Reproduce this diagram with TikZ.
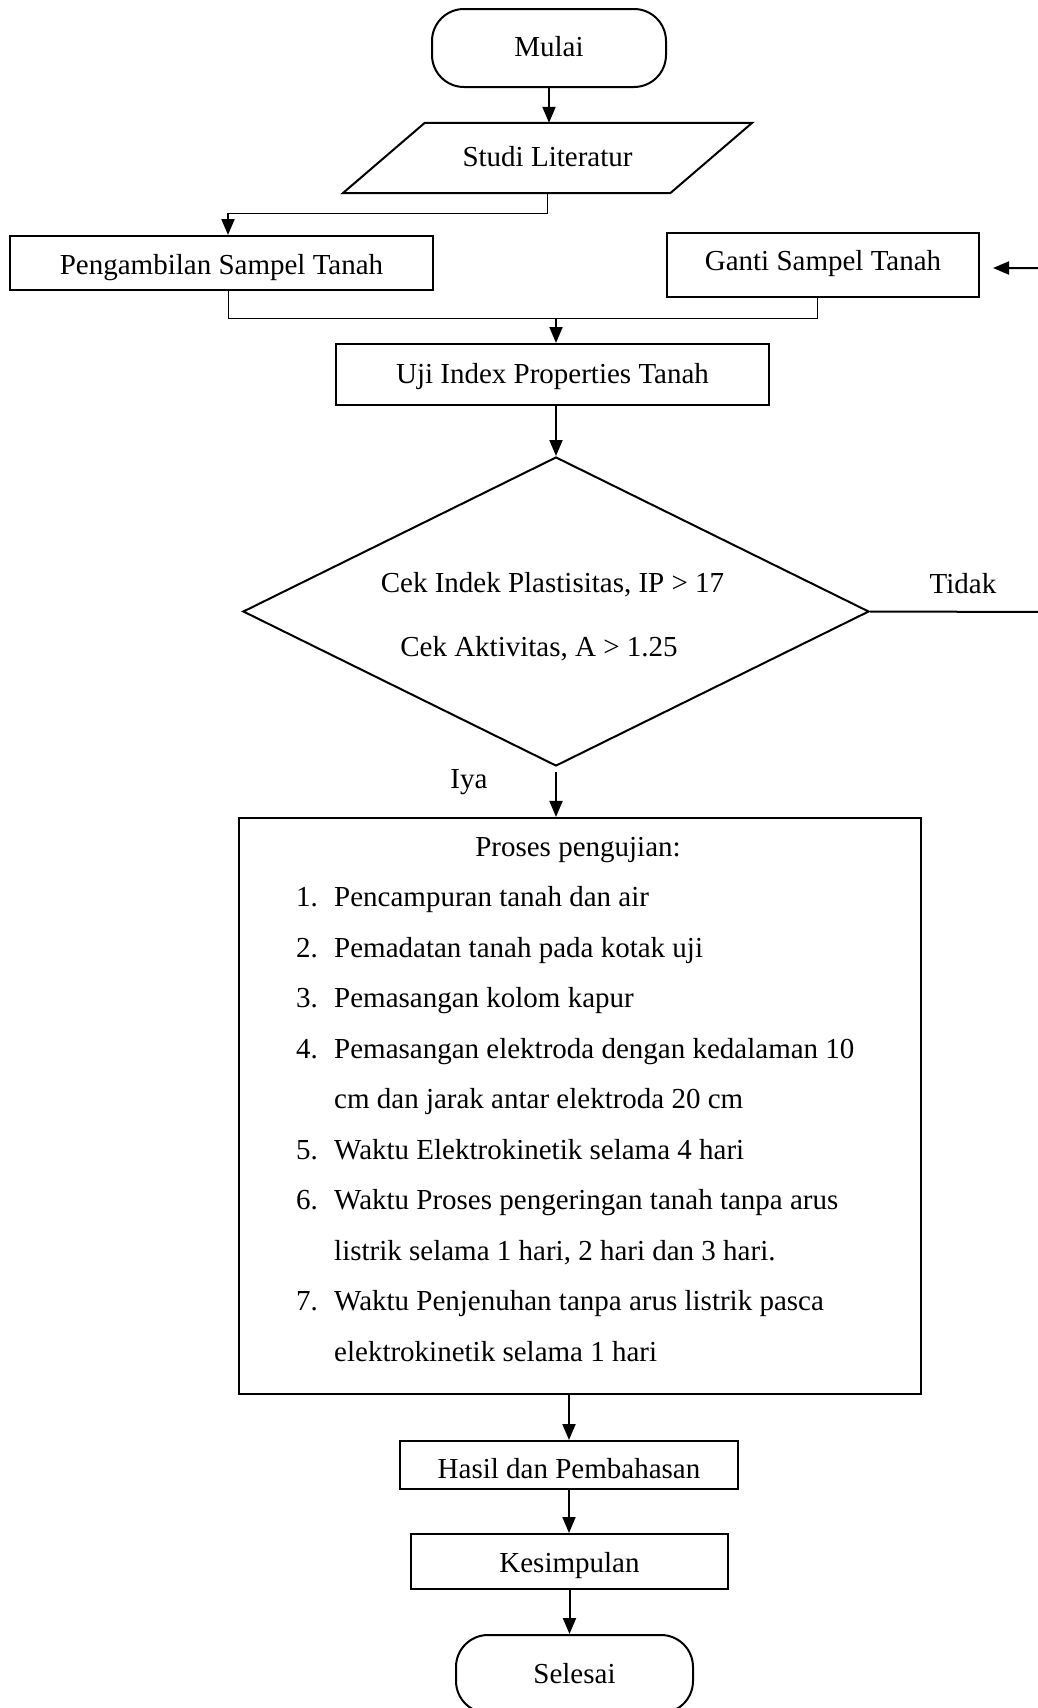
\documentclass[tikz,border=0pt]{standalone}
\usepackage{fontspec}
\setmainfont{Liberation Serif}
\usetikzlibrary{arrows.meta,shapes.geometric,calc}
\begin{document}
\begin{tikzpicture}[x=1pt,y=-1pt,
  every node/.style={font=\fontsize{29pt}{35pt}\selectfont, inner sep=0pt},
  box/.style={draw, line width=2pt, rectangle},
  term/.style={box, rounded corners=32pt},
  arr/.style={line width=2pt, -{Triangle[length=16pt,width=13pt]}},
  link/.style={line width=0.8pt},
  txt/.style={anchor=base},
  num/.style={anchor=base west}]
\useasboundingbox (0,0) rectangle (1037,1708);

% nodes
\node[term, minimum width=234pt, minimum height=78pt, text height=22pt, text depth=6pt] (mulai) at (549,48) {Mulai};
\node[minimum width=245pt, minimum height=70pt, text height=22pt, text depth=6pt] (studi) at (547.5,158) {Studi Literatur};
\draw[line width=2pt] ($(studi.south west)+(-82,0)$) -- (studi.north west)
      -- ($(studi.north east)+(82,0)$) -- (studi.south east) -- cycle;
\node[box, minimum width=423pt, minimum height=54pt, text height=25pt, text depth=3pt] (peng) at (221.5,263) {Pengambilan Sampel Tanah};
\node[box, minimum width=312pt, minimum height=64pt, text height=19pt, text depth=9pt] (ganti) at (823,265) {Ganti Sampel Tanah};
\node[box, minimum width=433pt, minimum height=61pt, text height=22.5pt, text depth=5.5pt] (uji) at (552.5,374.5) {Uji Index Properties Tanah};
\node[draw, line width=2pt, shape=diamond, minimum width=626pt, minimum height=309pt] (cek) at (556,611.5) {};
\node[txt] (cek1) at (552.5,592) {Cek Indek Plastisitas, IP > 17};
\node[txt] (cek2) at (539,656) {Cek Aktivitas, A > 1.25};
\node[txt] (tidak) at (963,593) {Tidak};
\node[txt] (iya) at (469,788) {Iya};

\node[draw, line width=2.2pt, minimum width=682pt, minimum height=576pt] (proses) at (580,1106) {};
\node[txt] (head) at (578,856) {Proses pengujian:};
\node[num] (n1) at (296,906.5) {1.};
\node[num] (t1) at (334,906.5) {Pencampuran tanah dan air};
\node[num] (n2) at (296,957) {2.};
\node[num] (t2) at (334,957) {Pemadatan tanah pada kotak uji};
\node[num] (n3) at (296,1007.5) {3.};
\node[num] (t3) at (334,1007.5) {Pemasangan kolom kapur};
\node[num] (n4) at (296,1058) {4.};
\node[num] (t4) at (334,1058) {Pemasangan elektroda dengan kedalaman 10};
\node[num] (t4b) at (334,1108.5) {cm dan jarak antar elektroda 20 cm};
\node[num] (n5) at (296,1159) {5.};
\node[num] (t5) at (334,1159) {Waktu Elektrokinetik selama 4 hari};
\node[num] (n6) at (296,1209.5) {6.};
\node[num] (t6) at (334,1209.5) {Waktu Proses pengeringan tanah tanpa arus};
\node[num] (t6b) at (334,1260) {listrik selama 1 hari, 2 hari dan 3 hari.};
\node[num] (n7) at (296,1310.5) {7.};
\node[num] (t7) at (334,1310.5) {Waktu Penjenuhan tanpa arus listrik pasca};
\node[num] (t7b) at (334,1361) {elektrokinetik selama 1 hari};

\node[box, minimum width=338pt, minimum height=48pt, text height=27pt, text depth=1pt] (hasil) at (569,1465) {Hasil dan Pembahasan};
\node[box, minimum width=317pt, minimum height=55pt, text height=24.5pt, text depth=3.5pt] (kes) at (569.5,1561.5) {Kesimpulan};
\node[term, minimum width=237pt, minimum height=78pt, text height=23pt, text depth=5pt] (sel) at (574.5,1674) {Selesai};

% junction coordinates
\coordinate (j1) at (228,213);
\coordinate (j2) at (228,318);
\coordinate (j3) at (817,318);
\coordinate (m) at (556,318);
\coordinate (r1) at (1050,612);

% connectors
\draw[arr] (mulai.south) -- (mulai.south |- studi.north);
\draw[link] (studi.south) |- (j1);
\draw[arr] (j1) -- (peng.north -| j1);
\draw[link] (peng.south -| j2) -- (j2) -- (j3) -- (ganti.south -| j3);
\draw[arr] (m) -- (uji.north -| m);
\draw[arr] (uji.south -| cek.north) -- (cek.north);
\draw[arr, shorten >=13pt] (cek.east) -- (r1) |- ([yshift=-3pt]ganti.east);
\draw[arr, shorten <=5pt] (cek.south) -- (cek.south |- proses.north);
\draw[arr] (hasil.north |- proses.south) -- (hasil.north);
\draw[arr] (hasil.south) -- (hasil.south |- kes.north);
\draw[arr] (kes.south) -- (kes.south |- sel.north);
\end{tikzpicture}
\end{document}
